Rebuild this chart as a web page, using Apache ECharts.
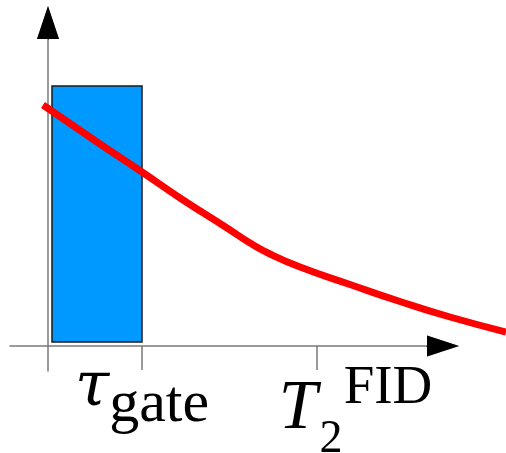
<!DOCTYPE html>
<html>
<head>
<meta charset="utf-8">
<script src="https://cdn.jsdelivr.net/npm/echarts@6/dist/echarts.min.js"></script>
<style>
  html, body { margin: 0; padding: 0; background: #fff; }
  #chart { width: 506px; height: 453px; }
</style>
</head>
<body>
<div id="chart"></div>
<script>
// Time axis (arbitrary units) and signal amplitude of the FID decay
const decayTime = [-0.5, 5.2, 9.4, 13.2, 17.9, 20.2, 22.2, 25.2, 30.2, 35.2, 40.2, 45.8];
const decaySignal = [24.1, 20.2, 17.4, 14.8, 11.8, 10.3, 9.2, 7.9, 6.15, 4.45, 2.9, 1.4];

// Acquisition gate window: [start, end, low, high]
const gateWindow = [[0.4, 9.4, 0.4, 26.0]];

// Marked times on the time axis
const tickValues = [9.4, 26.9];
const tickNames = ['tau', 'T2'];

const chart = echarts.init(document.getElementById('chart'), null, { renderer: 'canvas' });

const serifFont = '"Liberation Serif", "DejaVu Serif", serif';
const greekFont = '"DejaVu Serif", "Liberation Serif", serif';
const axisGray = '#7a7a7a';

// shared axis extents
const xMin = -3.8, xEnd = 39.5;
const yMin = -2.5, yEnd = 32.35;

chart.setOption({
  animation: false,
  grid: [
    // plotting area for the curve and the gate
    { left: 10, right: 0, top: 0, bottom: 0, outerBoundsMode: 'none' },
    // axes
    { left: 10, width: 433, top: 22.5, height: 348.5, outerBoundsMode: 'none' },
    // black arrow head of the time axis
    { left: 427, width: 16, top: 22.5, height: 348.5, outerBoundsMode: 'none' },
    // black arrow head of the signal axis
    { left: 10, width: 433, top: 22.5, height: 16.5, outerBoundsMode: 'none' }
  ],
  xAxis: [
    { gridIndex: 0, type: 'value', min: -3.8, max: 45.8, show: false },
    {
      gridIndex: 1, type: 'value', min: xMin, max: xEnd,
      splitLine: { show: false },
      axisLine: {
        onZero: true,
        lineStyle: { color: axisGray, width: 1.5 },
        symbol: ['none', 'triangle'],
        symbolSize: [21, 32]
      },
      axisTick: {
        customValues: tickValues,
        length: 24,
        lineStyle: { color: axisGray, width: 1.5 }
      },
      axisLabel: {
        customValues: tickValues,
        margin: -16,
        color: '#000',
        fontFamily: serifFont,
        formatter: function (v) {
          const i = tickValues.indexOf(v);
          return tickNames[i] === 'tau'
            ? '{t|τ}{s|gate}'
            : '{T|T}{sub|2}{sup|FID}';
        },
        rich: {
          t: { fontFamily: greekFont, fontStyle: 'italic', fontSize: 62, verticalAlign: 'top', padding: [3, 0, 0, 0], color: '#000' },
          s: { fontFamily: serifFont, fontSize: 60, verticalAlign: 'top', padding: [20, 0, 0, 0], color: '#000' },
          T: { fontFamily: serifFont, fontStyle: 'italic', fontSize: 69, verticalAlign: 'top', width: 50, padding: [20, 0, 0, 76], color: '#000' },
          sub: { fontFamily: serifFont, fontSize: 46, verticalAlign: 'top', width: 16, padding: [62, 0, 0, 0], color: '#000' },
          sup: { fontFamily: serifFont, fontSize: 55, verticalAlign: 'top', width: 98, padding: [6, 0, 0, 0], color: '#000' }
        }
      }
    },
    {
      gridIndex: 2, type: 'value', min: 37.9, max: xEnd,
      splitLine: { show: false }, axisTick: { show: false }, axisLabel: { show: false },
      axisLine: {
        onZero: true,
        lineStyle: { color: '#000', width: 1 },
        symbol: ['none', 'triangle'],
        symbolSize: [21, 32]
      }
    },
    { gridIndex: 3, type: 'value', min: xMin, max: xEnd, show: false }
  ],
  yAxis: [
    { gridIndex: 0, type: 'value', min: -10.7, max: 34.6, show: false },
    {
      gridIndex: 1, type: 'value', min: yMin, max: yEnd,
      splitLine: { show: false },
      axisTick: { show: false },
      axisLabel: { show: false },
      axisLine: {
        onZero: true,
        lineStyle: { color: axisGray, width: 1.5 },
        symbol: ['none', 'triangle'],
        symbolSize: [22, 33]
      }
    },
    { gridIndex: 2, type: 'value', min: yMin, max: yEnd, show: false },
    {
      gridIndex: 3, type: 'value', min: 30.7, max: yEnd,
      splitLine: { show: false }, axisTick: { show: false }, axisLabel: { show: false },
      axisLine: {
        onZero: true,
        lineStyle: { color: '#000', width: 1 },
        symbol: ['none', 'triangle'],
        symbolSize: [22, 33]
      }
    }
  ],
  series: [
    {
      type: 'custom',
      xAxisIndex: 0, yAxisIndex: 0,
      data: gateWindow,
      renderItem: function (params, api) {
        const p0 = api.coord([api.value(0), api.value(3)]);
        const p1 = api.coord([api.value(1), api.value(2)]);
        return {
          type: 'rect',
          shape: { x: p0[0], y: p0[1], width: p1[0] - p0[0], height: p1[1] - p0[1] },
          style: { fill: '#0099ff', stroke: '#1a1a1a', lineWidth: 1.5 }
        };
      }
    },
    {
      type: 'line',
      xAxisIndex: 0, yAxisIndex: 0,
      data: decayTime.map((t, i) => [t, decaySignal[i]]),
      smooth: 0.5,
      showSymbol: false,
      lineStyle: { color: '#ff0000', width: 7, cap: 'butt' }
    }
  ]
});
</script>
</body>
</html>
